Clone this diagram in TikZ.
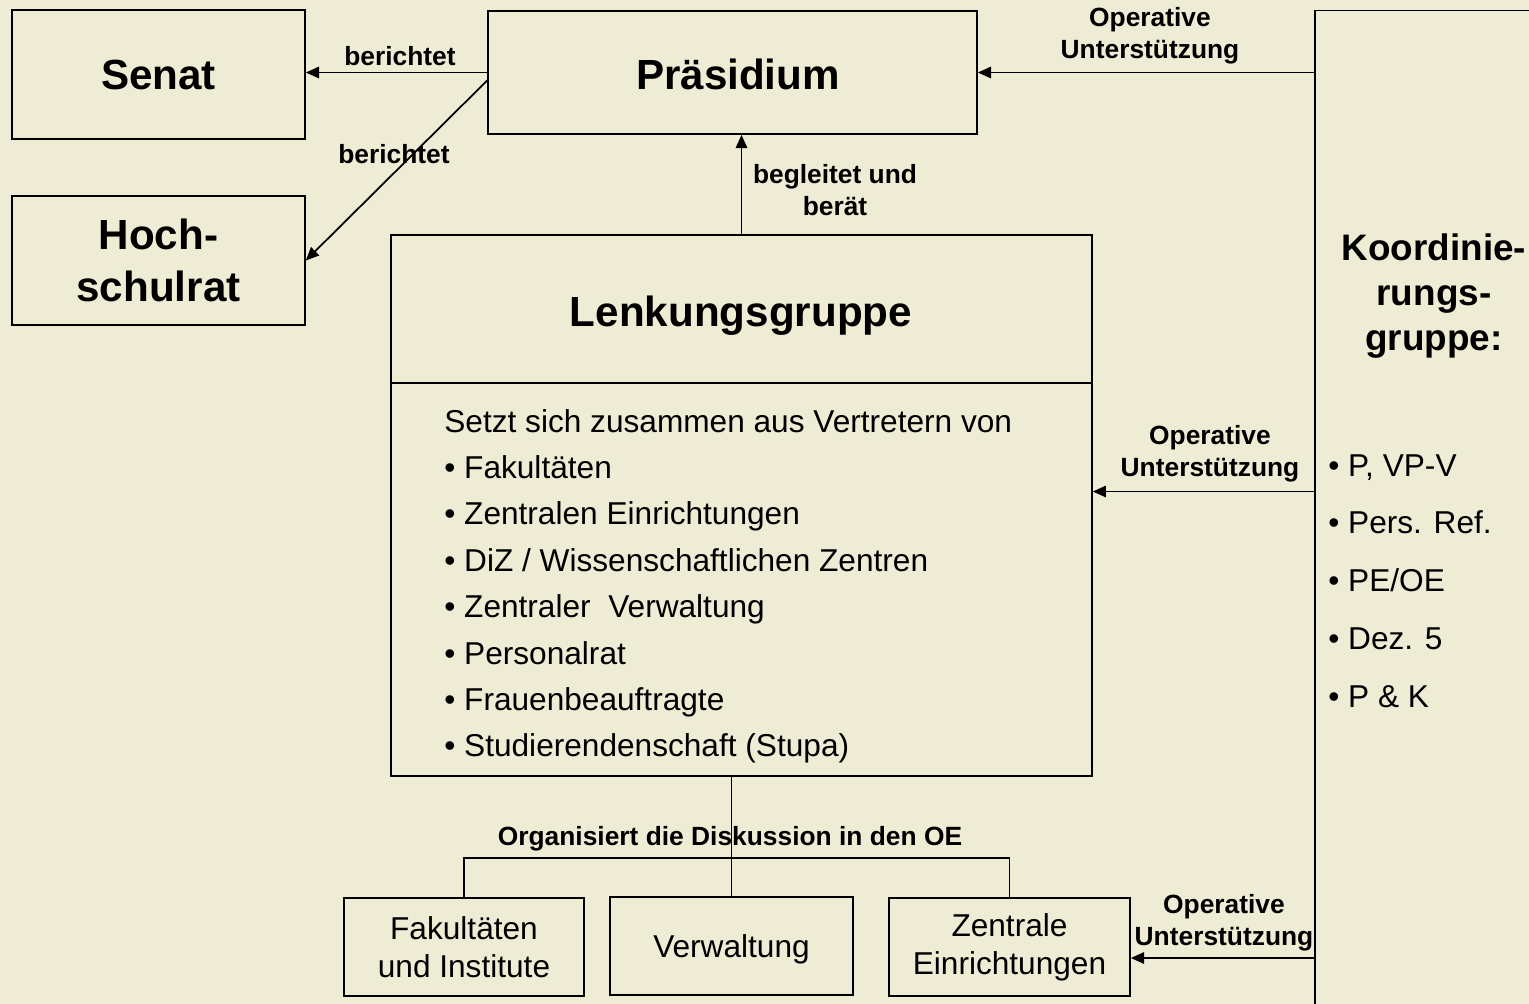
\documentclass[tikz,border=0pt]{standalone}
\usepackage{fontspec}
\setmainfont{Liberation Sans}
\usepackage{xcolor}
\usetikzlibrary{arrows.meta, positioning, calc}
\definecolor{bgcol}{HTML}{EEECD5}
\begin{document}
\begin{tikzpicture}[
    x=0.02cm, y=-0.02cm,
    box/.style={rectangle, draw=black, line width=1pt, inner sep=0pt, align=center},
    bigtxt/.style={font=\fontsize{24}{29.5}\selectfont\bfseries, align=center, inner sep=0pt},
    lbl/.style={font=\fontsize{15}{18}\selectfont\bfseries, align=center, inner sep=0pt},
    itemtxt/.style={font=\fontsize{18}{21.5}\selectfont, inner sep=0pt, anchor=base west},
    arr/.style={-{Triangle[length=7.5pt, width=6.5pt]}, line width=1pt}
]
    \clip (0,0) rectangle (1529,1004);
    \fill[bgcol] (0,0) rectangle (1529,1004);

    % Top boxes
    \node[box, bigtxt, minimum width=5.86cm, minimum height=2.58cm] (senat) at (158.5,74.5) {Senat};
    \node[box, bigtxt, minimum width=5.86cm, minimum height=2.58cm] (hsr) at (158.5,260.5) {Hoch-\\schulrat};
    \node[box, minimum width=9.78cm, minimum height=2.46cm] (praes) at (732.5,72.5) {};
    \node[bigtxt, text height=17pt, text depth=0pt] (praestitle) at (738,75) {Präsidium};

    % Lenkungsgruppe
    \node[box, minimum width=14.02cm, minimum height=10.82cm] (lenk) at (741.5,505.5) {};
    \node[bigtxt] (lenktitle) at (741,316) {Lenkungsgruppe};
    \draw[line width=1pt] (lenk.west |- 0,383) -- (lenk.east |- 0,383);
    \node[itemtxt] (lenkhead) at (444,432) {Setzt sich zusammen aus Vertretern von};
    \foreach \txt [count=\i] in {Fakultäten, Zentralen Einrichtungen, DiZ / Wissenschaftlichen Zentren,
        Zentraler\ \ Verwaltung, Personalrat, Frauenbeauftragte, Studierendenschaft (Stupa)}
        \node[itemtxt] (lenkitem\i) at (444,{432+46.4*\i}) {• \txt};

    % Koordinierungsgruppe
    \node[box, minimum width=4.6cm, minimum height=20.18cm] (koord) at (1430,515) {};
    \node[bigtxt, font=\fontsize{21}{25.5}\selectfont\bfseries] (koordtitle) at (1434,296) {Koordinie-\\rungs-\\gruppe:};
    \foreach \txt [count=\i from 0] in {{P, VP-V}, Pers. Ref., PE/OE, Dez. 5, P \& K}
        \node[itemtxt] (koorditem\i) at (1328,{476+57.75*\i}) {• \txt};

    % Bottom boxes
    \node[box, font=\fontsize{18}{21.5}\selectfont, minimum width=4.8cm, minimum height=1.96cm] (fak) at (464,947) {Fakultäten\\und Institute};
    \node[box, font=\fontsize{18}{21.5}\selectfont, minimum width=4.86cm, minimum height=1.96cm, text height=13pt, text depth=0pt] (verw) at (731.5,946) {Verwaltung};
    \node[box, font=\fontsize{18}{21.5}\selectfont, minimum width=4.82cm, minimum height=1.96cm] (zent) at (1009.5,947) {Zentrale\\Einrichtungen};

    % Arrows
    \draw[arr] (praes.west) -- (senat.east |- praes.west);
    \node[lbl] (lblsenat) at (400,56) {berichtet};
    \draw[arr] ($(praes.west)+(0,8)$) -- (hsr.east);
    \node[lbl] (lblhsr) at (394,154) {berichtet};
    \draw[arr] (lenk.north) -- (lenk.north |- praes.south);
    \node[lbl] (lblberaet) at (835,190) {begleitet und\\berät};

    \draw[arr] (koord.west |- praes.east) -- (praes.east);
    \node[lbl] (lblop1) at (1150,36) {Operative\\Unterstützung};
    \coordinate (lenkin) at ($(lenk.east)+(0,-14)$);
    \draw[arr] (koord.west |- lenkin) -- (lenkin);
    \node[lbl] (lblop2) at (1210,454) {Operative\\Unterstützung};
    \coordinate (zentin) at ($(zent.east)+(0,11)$);
    \draw[arr] (koord.west |- zentin) -- (zentin);
    \node[lbl] (lblop3) at (1224,923) {Operative\\Unterstützung};

    % Discussion in the OE
    \coordinate (oebar) at (730,858);
    \draw[line width=1pt] (verw.north |- lenk.south) -- (verw.north);
    \draw[line width=1pt] (fak.north) |- (oebar) -| (zent.north);
    \node[lbl] (lbloe) at (730,839) {Organisiert die Diskussion in den OE};
\end{tikzpicture}
\end{document}
